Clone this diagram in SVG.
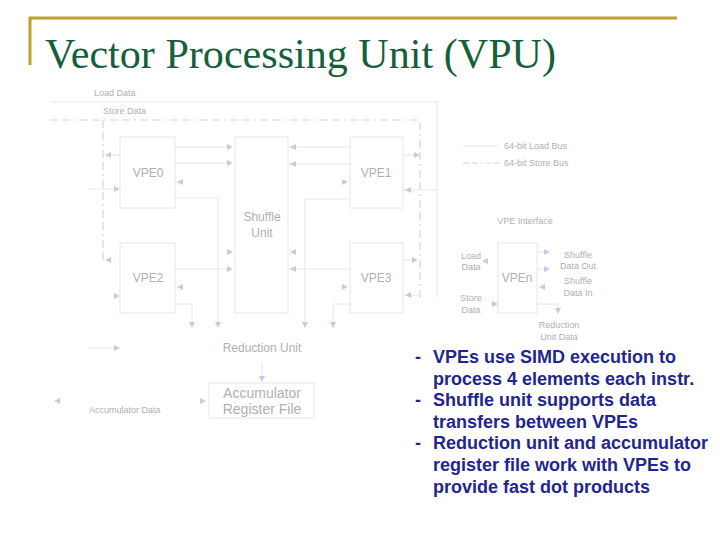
<svg xmlns="http://www.w3.org/2000/svg" width="720" height="540" viewBox="0 0 720 540">
<style>
.ln{stroke:#e6e6ea;stroke-width:1;fill:none}
.ds{stroke:#d4d4de;stroke-width:1.2;fill:none;stroke-dasharray:8 4 8 4 2 4}
.bx{fill:#ffffff;stroke:#e6e6ea;stroke-width:1}
.t{font-family:"Liberation Sans",Arial,sans-serif;fill:#b0b0b0}
.s{font-size:9px}
.m{font-size:12px}
.l{font-size:14px}
.ar{fill:#c8c8e8}
.b{font-family:"Liberation Sans",Arial,sans-serif;font-weight:bold;font-size:18px;fill:#1f2690}
</style>
<defs>
<path id="r" d="M-3,-3 L3,0 L-3,3 Z"/>
<path id="lf" d="M3,-3 L-3,0 L3,3 Z"/>
<path id="dn" d="M-3,-3 L3,-3 L0,3 Z"/>
</defs>
<rect width="720" height="540" fill="#ffffff"/>
<g id="title">
<path d="M30,65 V18 H677" stroke="#c0a030" stroke-width="3" fill="none"/>
<text x="45" y="68" font-family="'Liberation Serif','Times New Roman',serif" font-size="42" fill="#14603a" textLength="511" lengthAdjust="spacingAndGlyphs">Vector Processing Unit (VPU)</text>
</g>
<g id="connectors">
<path class="ln" d="M50,102 H437 V297"/>
<path class="ds" d="M50,120 H420 V300"/>
<path class="ds" d="M103,120 V260"/>
<path class="ln" d="M120,155 H108 M88,189 H117"/>
<path class="ln" d="M175,147 H230 M175,163 H230 M175,182 H180"/>
<path class="ln" d="M175,198 H218 V323"/>
<path class="ln" d="M288,147 H350 M288,164 H350"/>
<path class="ln" d="M350,199 H305 V323"/>
<path class="ln" d="M403,155 H417 M403,190 H437"/>
<path class="ln" d="M175,269 H230 M175,287 H180"/>
<path class="ln" d="M175,304 H192 V323"/>
<path class="ln" d="M288,269 H350"/>
<path class="ln" d="M350,304 H333 V323"/>
<path class="ln" d="M403,260 H415 M403,295 H420"/>
<path class="ln" d="M88,348 H117"/>
<path class="ln" d="M262,363 V380"/>
<path class="ln" d="M537,252 H547 M537,269 H547 M537,304 H558 V311"/>
<g class="ar">
<use href="#lf" x="108" y="155"/>
<use href="#r" x="117" y="189"/>
<use href="#r" x="230" y="147"/>
<use href="#r" x="230" y="163"/>
<use href="#lf" x="180" y="182"/>
<use href="#lf" x="293" y="147"/>
<use href="#lf" x="293" y="164"/>
<use href="#r" x="345" y="182"/>
<use href="#r" x="417" y="155"/>
<use href="#lf" x="408" y="190"/>
<use href="#lf" x="108" y="260"/>
<use href="#r" x="117" y="296"/>
<use href="#r" x="230" y="252"/>
<use href="#r" x="230" y="269"/>
<use href="#lf" x="180" y="287"/>
<use href="#lf" x="293" y="252"/>
<use href="#lf" x="293" y="269"/>
<use href="#r" x="345" y="287"/>
<use href="#r" x="415" y="260"/>
<use href="#lf" x="408" y="295"/>
<use href="#dn" x="192" y="325"/>
<use href="#dn" x="218" y="325"/>
<use href="#dn" x="305" y="325"/>
<use href="#dn" x="333" y="325"/>
<use href="#r" x="117" y="348"/>
<use href="#dn" x="262" y="379"/>
<use href="#lf" x="57" y="401"/>
<use href="#r" x="203" y="401"/>
<use href="#lf" x="485" y="261"/>
<use href="#r" x="495" y="304"/>
<use href="#r" x="547" y="252"/>
<use href="#r" x="547" y="269"/>
<use href="#lf" x="542" y="287"/>
<use href="#dn" x="558" y="311"/>
</g>
</g>
<g id="labels">
<text class="t s" x="94" y="96">Load Data</text>
<text class="t s" x="103" y="114">Store Data</text>
<text class="t s" x="89" y="413">Accumulator Data</text>
</g>
<g id="vpe0"><rect class="bx" x="120" y="137" width="55" height="71"/><text class="t m" x="148" y="177" text-anchor="middle">VPE0</text></g>
<g id="vpe1"><rect class="bx" x="350" y="137" width="53" height="71"/><text class="t m" x="376" y="177" text-anchor="middle">VPE1</text></g>
<g id="vpe2"><rect class="bx" x="120" y="243" width="55" height="70"/><text class="t m" x="148" y="282" text-anchor="middle">VPE2</text></g>
<g id="vpe3"><rect class="bx" x="350" y="243" width="53" height="70"/><text class="t m" x="376" y="282" text-anchor="middle">VPE3</text></g>
<g id="shuffle"><rect class="bx" x="235" y="137" width="53" height="176"/><text class="t m" x="262" y="221" text-anchor="middle">Shuffle</text><text class="t m" x="262" y="237" text-anchor="middle">Unit</text></g>
<g id="reduction"><text class="t m" x="262" y="352" text-anchor="middle">Reduction Unit</text></g>
<g id="accumulator"><rect class="bx" x="209" y="383" width="105" height="35"/><text class="t l" x="262" y="398" text-anchor="middle">Accumulator</text><text class="t l" x="262" y="414" text-anchor="middle">Register File</text></g>
<g id="legend">
<path class="ln" d="M463,146 H498"/>
<path class="ds" d="M463,163 H500" style="stroke-dasharray:6 3 6 3 1.5 3"/>
<text class="t s" x="504" y="149">64-bit Load Bus</text>
<text class="t s" x="504" y="166">64-bit Store Bus</text>
<text class="t s" x="525" y="224" text-anchor="middle">VPE Interface</text>
</g>
<g id="vpen">
<rect class="bx" x="498" y="243" width="39" height="70"/>
<text class="t m" x="517" y="282" text-anchor="middle">VPEn</text>
<text class="t s" x="471" y="259" text-anchor="middle">Load</text>
<text class="t s" x="471" y="270" text-anchor="middle">Data</text>
<text class="t s" x="471" y="301" text-anchor="middle">Store</text>
<text class="t s" x="471" y="313" text-anchor="middle">Data</text>
<text class="t s" x="578" y="258" text-anchor="middle">Shuffle</text>
<text class="t s" x="578" y="269" text-anchor="middle">Data Out</text>
<text class="t s" x="578" y="284" text-anchor="middle">Shuffle</text>
<text class="t s" x="578" y="296" text-anchor="middle">Data In</text>
<text class="t s" x="559" y="328" text-anchor="middle">Reduction</text>
<text class="t s" x="559" y="340" text-anchor="middle">Unit Data</text>
</g>
<g id="notes">
<text class="b" x="415" y="363">-</text><text class="b" x="433" y="363">VPEs use SIMD execution to</text>
<text class="b" x="433" y="385">process 4 elements each instr.</text>
<text class="b" x="415" y="406">-</text><text class="b" x="433" y="406">Shuffle unit supports data</text>
<text class="b" x="433" y="428">transfers between VPEs</text>
<text class="b" x="415" y="449">-</text><text class="b" x="433" y="449">Reduction unit and accumulator</text>
<text class="b" x="433" y="471">register file work with VPEs to</text>
<text class="b" x="433" y="493">provide fast dot products</text>
</g>
</svg>
